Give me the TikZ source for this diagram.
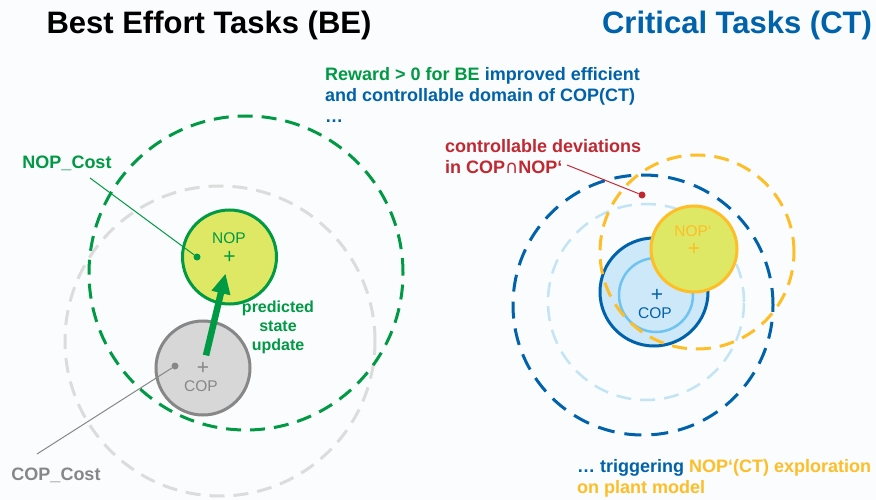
\documentclass[tikz,border=0pt]{standalone}
\usepackage{fontspec}
\setmainfont{Liberation Sans}
\newfontfamily\symfont{DejaVu Sans}
\usetikzlibrary{positioning,arrows.meta}
\definecolor{beGreen}{RGB}{0,153,68}
\definecolor{ctBlue}{RGB}{0,98,170}
\definecolor{ctLight}{RGB}{195,228,245}
\definecolor{ctFill}{RGB}{205,232,248}
\definecolor{ctRing}{RGB}{110,195,240}
\definecolor{nopYellow}{RGB}{222,232,100}
\definecolor{nopOrange}{RGB}{253,190,40}
\definecolor{copGrey}{RGB}{215,215,215}
\definecolor{copEdge}{RGB}{135,135,135}
\definecolor{domGrey}{RGB}{220,220,220}
\definecolor{devRed}{RGB}{192,40,50}
\definecolor{paper}{RGB}{251,252,253}

\begin{document}
\begin{tikzpicture}[
		x=1pt, y=-1pt,
		every node/.style={font=\fontsize{18}{21}\selectfont\bfseries, inner sep=0pt},
		heading/.style={font=\fontsize{31}{36}\selectfont\bfseries},
		ring/.style={circle, draw, line width=3pt, minimum size=#1},
		region/.style={circle, draw, line width=3pt, dash pattern=on 15pt off 9pt, minimum size=#1},
		tag/.style={font=\fontsize{15.5}{18}\selectfont},
		crosshair/.style={font=\fontsize{21}{21}\selectfont},
		spot/.style={circle, minimum size=7pt},
		lead/.style={line width=1pt},
		update/.style={line width=6.5pt, -{Triangle[length=20pt,width=18pt]}}
	]
	\useasboundingbox (0,0) rectangle (876,500);
	\fill[paper] (0,0) rectangle (876,500);
	
	% best effort side
	\node[heading] (betitle) at (209,25) {Best Effort Tasks (BE)};
	\node[region=310pt, draw=domGrey] (copdom) at (220,341) {};
	\node[region=314pt, draw=beGreen] (nopdom) at (246,273) {};
	\node[ring=94pt, draw=copEdge, fill=copGrey] (cop) at (203,368) {};
	\node[ring=94pt, draw=beGreen, fill=nopYellow] (nop) at (229.5,257) {};
	
	\node[crosshair, text=beGreen] at (nop) {+};
	\node[tag, text=beGreen] (noplabel) at (229,238) {NOP};
	\node[crosshair, text=copEdge] at (cop) {+};
	\node[tag, text=copEdge] (coplabel) at (201,386) {COP};
	
	\node[spot, fill=beGreen] (nopdot) at (197,257) {};
	\node[spot, fill=copEdge] (copdot) at (175,366) {};
	\node[text=beGreen] (nopcost) at (67,163) {NOP\_Cost};
	\node[text=copEdge] (copcost) at (56,475) {COP\_Cost};
	\coordinate (nopcostend) at (90,178);
	\coordinate (copcostend) at (37,454);
	\draw[lead, beGreen] (nopcostend) -- (nopdot);
	\draw[lead, copEdge] (copcostend) -- (copdot);
	
	\draw[update, beGreen, shorten <=13pt, shorten >=17pt] (cop.center) -- (nop.center);
	\node[font=\fontsize{16}{19}\selectfont\bfseries, text=beGreen, align=center] (updlabel) at (278,327) {predicted\\state\\update};
	
	\node[text=ctBlue, align=left, anchor=west] (rewardlabel) at (325,95)
		{{\color{beGreen}Reward > 0 for BE} improved efficient\\and controllable domain of COP(CT)\\…};
	
	% critical side
	\node[heading, text=ctBlue] (cttitle) at (737,25) {Critical Tasks (CT)};
	\node[region=260pt, draw=ctBlue, dash pattern=on 17pt off 10pt] (ctdom) at (643,305) {};
	\node[region=196pt, draw=ctLight, line width=2.5pt] (ctinner) at (646,302) {};
	\node[ring=108pt, draw=ctBlue, fill=ctFill] (ctcop) at (654,292) {};
	\node[ring=74pt, draw=ctRing, line width=2.5pt] (ctcore) at (656,295) {};
	\node[ring=86pt, draw=nopOrange, fill=nopYellow] (ctnop) at (694,249) {};
	\node[region=194pt, draw=nopOrange] (nopreach) at (697,252) {};
	
	\node[crosshair, text=ctBlue] at (657,295) {+};
	\node[tag, text=ctBlue] (ctcoplabel) at (655,313) {COP};
	\node[crosshair, text=nopOrange] at (ctnop) {+};
	\node[tag, text=nopOrange] (ctnoplabel) at (693,231) {NOP‘};
	
	\node[spot, fill=devRed] (devdot) at (642,195) {};
	\coordinate (devend) at (567,165);
	\draw[lead, devRed] (devend) -- (devdot);
	\node[text=devRed, align=left, anchor=west] (devlabel) at (445,157)
		{controllable deviations\\in COP{\symfont\mdseries ∩}NOP‘};
	
	\node[text=nopOrange, align=left, anchor=west] (explabel) at (577,478)
		{{\color{ctBlue}… triggering} NOP‘(CT) exploration\\on plant model};
\end{tikzpicture}
\end{document}
